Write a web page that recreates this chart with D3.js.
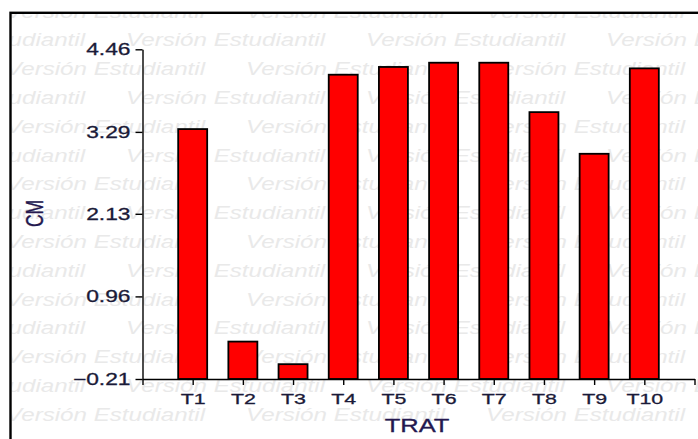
<!DOCTYPE html>
<html>
<head>
<meta charset="utf-8">
<script src="https://cdn.jsdelivr.net/npm/d3@7"></script>
<style>
  body { margin: 0; background: #fff; }
  svg { display: block; font-family: "Liberation Sans", Arial, sans-serif; }
</style>
</head>
<body>
<div id="chart"></div>
<script>
// data
const categories = ["T1", "T2", "T3", "T4", "T5", "T6", "T7", "T8", "T9", "T10"];
const values = [3.33, 0.32, 0.00, 4.10, 4.21, 4.27, 4.27, 3.57, 2.98, 4.19];
const yTicks = [-0.21, 0.96, 2.13, 3.29, 4.46];
const watermark = "Versión Estudiantil";

const W = 698, H = 439;
const stretch = 1.38; // the picture is wider than tall, text looks stretched

const svg = d3.select("#chart").append("svg").attr("width", W).attr("height", H);

// watermark, clipped to the frame
svg.append("clipPath").attr("id", "frameClip")
  .append("rect").attr("x", 11.7).attr("y", 14).attr("width", W).attr("height", H);

const wm = svg.append("g").attr("clip-path", "url(#frameClip)")
  .style("font-size", "17.5px").style("font-style", "italic").attr("fill", "#e9e9e9");
d3.range(15).forEach(k => {
  const yc = 11.5 + 28.8 * k;
  const x0 = k % 2 ? 126 : 6;
  d3.range(-1, 4).forEach(j => {
    wm.append("text")
      .attr("transform", `translate(${x0 + 240 * j},${yc + 6}) scale(${stretch},1)`)
      .text(watermark);
  });
});

// outer frame
svg.append("rect").attr("x", 10.5).attr("y", 12.8).attr("width", 900).attr("height", 900)
  .attr("fill", "none").attr("stroke", "#000").attr("stroke-width", 2.4);

// scales
const x = d3.scalePoint().domain(["", ...categories, " "]).range([142.5, 694.5]);
const y = d3.scaleLinear().domain([-0.21, 4.46]).range([379, 49.3]);

// bars
svg.append("g").selectAll("rect").data(values).join("rect")
  .attr("x", (d, i) => x(categories[i]) - 14.5)
  .attr("width", 29)
  .attr("y", d => y(d))
  .attr("height", d => y(-0.21) - y(d))
  .attr("fill", "#ff0000").attr("stroke", "#000").attr("stroke-width", 1.8);

const textColor = "#1a1a38";

// y axis
const gy = svg.append("g").attr("transform", "translate(142.5,0)")
  .call(d3.axisLeft(y).tickValues(yTicks).tickFormat(d3.format(".2f")).tickSize(7).tickSizeOuter(0).tickPadding(5));
gy.selectAll("path, line").attr("stroke", "#000").attr("stroke-width", 1.4);
gy.selectAll("text").style("font-size", "16.5px").attr("fill", textColor)
  .attr("stroke", textColor).attr("stroke-width", 0.3)
  .each(function() {
    const t = d3.select(this);
    const tx = +t.attr("x");
    t.attr("x", 0).attr("transform", `translate(${tx},0) scale(${stretch},1)`);
  });

// x axis
const gx = svg.append("g").attr("transform", `translate(0,${y(-0.21)})`)
  .call(d3.axisBottom(x).tickSize(6).tickSizeOuter(0).tickPadding(8));
gx.selectAll("path, line").attr("stroke", "#000").attr("stroke-width", 1.4);
gx.selectAll("text").style("font-size", "15.5px").attr("fill", textColor)
  .attr("stroke", textColor).attr("stroke-width", 0.3)
  .attr("transform", `scale(${stretch},1)`);

// axis titles
svg.append("text")
  .attr("transform", `translate(417,432) scale(${stretch},1)`)
  .attr("text-anchor", "middle").style("font-size", "18.5px").attr("fill", "#24184f")
  .attr("stroke", "#24184f").attr("stroke-width", 0.3)
  .text("TRAT");

svg.append("text")
  .attr("transform", `translate(35,213.5) scale(${stretch},1) rotate(-90)`)
  .attr("text-anchor", "middle").attr("dy", "0.35em").style("font-size", "17.5px").attr("fill", "#24184f")
  .attr("stroke", "#24184f").attr("stroke-width", 0.3)
  .text("CM");
</script>
</body>
</html>
